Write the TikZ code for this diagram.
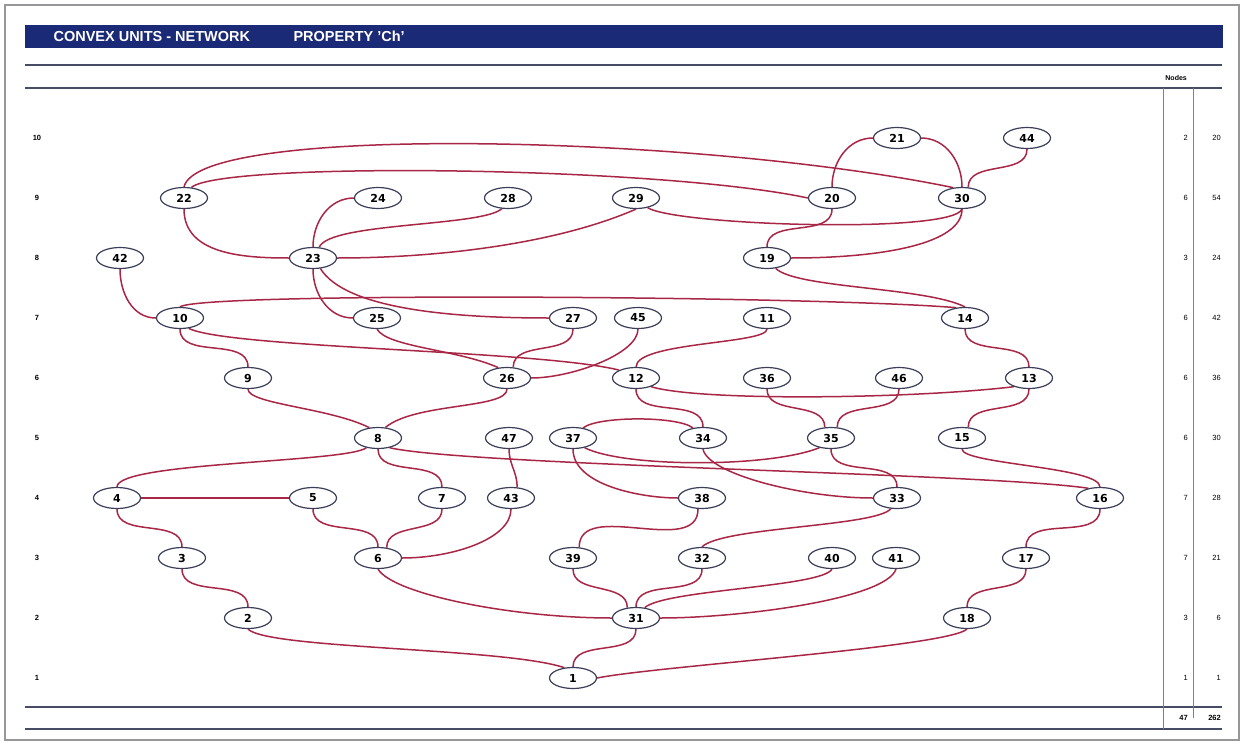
\documentclass[tikz,border=0pt]{standalone}
\usepackage{fontspec}
\setmainfont{Liberation Sans}
\newfontfamily\numfont{DejaVu Sans}
\usetikzlibrary{shapes.geometric,backgrounds}
\definecolor{barblue}{RGB}{26,42,118}
\definecolor{linkred}{RGB}{168,38,70}
\definecolor{unitgray}{RGB}{58,62,88}
\definecolor{rulegray}{RGB}{70,76,100}
\definecolor{framegray}{RGB}{150,150,155}
\begin{document}
\begin{tikzpicture}[x=1pt,y=-1pt,
    unit/.style={ellipse,draw=unitgray,line width=1.2pt,fill=white,minimum width=47pt,minimum height=21pt,inner sep=0pt,font=\numfont\bfseries\fontsize{11}{12}\selectfont},
    link/.style={draw=linkred,line width=1.5pt},
    lvl/.style={font=\bfseries\fontsize{7.5}{8}\selectfont},
    cnt/.style={anchor=east,inner sep=1pt,font=\fontsize{7.5}{8}\selectfont}]
            \useasboundingbox (0,0) rectangle (1245,744);
            \draw[framegray, line width=1.5pt] (5,5) rectangle (1239,740);
            \fill[barblue] (25,25) rectangle (1223,48);
            \node[anchor=west, text=white, font=\bfseries\fontsize{14.5}{15}\selectfont] (title) at (50,36.5) {CONVEX UNITS - NETWORK};
            \node[anchor=west, text=white, font=\bfseries\fontsize{14.5}{15}\selectfont] (prop) at (290,36.5) {PROPERTY 'Ch'};
            \draw[rulegray, line width=1.4pt] (25,65) -- (1222,65);
            \draw[rulegray, line width=1.4pt] (25,88) -- (1222,88);
            \draw[rulegray, line width=1.4pt] (25,707) -- (1222,707);
            \draw[rulegray, line width=1.4pt] (25,729) -- (1222,729);
            \draw[gray, line width=0.6pt] (1163,88) -- (1163,729);
            \draw[gray, line width=0.6pt] (1193,88) -- (1193,718);
            \node[anchor=east, inner sep=1pt, font=\bfseries\fontsize{7}{7}\selectfont] (nodes) at (1188,78) {Nodes};
            \foreach \lv/\nn/\ns in {10/2/20, 9/6/54, 8/3/24, 7/6/42, 6/6/36, 5/6/30, 4/7/28, 3/7/21, 2/3/6, 1/1/1} {
              \node[lvl] (lvl\lv) at (37,{738-60*\lv}) {\lv};
              \node[cnt] (cnta\lv) at (1189,{738-60*\lv}) {\nn};
              \node[cnt] (cntb\lv) at (1222,{738-60*\lv}) {\ns};
            }
            \node[cnt, font=\bfseries\fontsize{7.5}{8}\selectfont] (tota) at (1189,718) {47};
            \node[cnt, font=\bfseries\fontsize{7.5}{8}\selectfont] (totb) at (1222,718) {262};

            \node[unit] (n21) at (897,138) {21};
            \node[unit] (n44) at (1027,138) {44};
            \node[unit] (n22) at (184,198) {22};
            \node[unit] (n24) at (378,198) {24};
            \node[unit] (n28) at (508,198) {28};
            \node[unit] (n29) at (636,198) {29};
            \node[unit] (n20) at (832,198) {20};
            \node[unit] (n30) at (962,198) {30};
            \node[unit] (n42) at (120,258) {42};
            \node[unit] (n23) at (313,258) {23};
            \node[unit] (n19) at (767,258) {19};
            \node[unit] (n10) at (180,318) {10};
            \node[unit] (n25) at (377,318) {25};
            \node[unit] (n27) at (573,318) {27};
            \node[unit] (n45) at (638,318) {45};
            \node[unit] (n11) at (767,318) {11};
            \node[unit] (n14) at (965,318) {14};
            \node[unit] (n9) at (248,378) {9};
            \node[unit] (n26) at (507,378) {26};
            \node[unit] (n12) at (636,378) {12};
            \node[unit] (n36) at (767,378) {36};
            \node[unit] (n46) at (899,378) {46};
            \node[unit] (n13) at (1029,378) {13};
            \node[unit] (n8) at (378,438) {8};
            \node[unit] (n47) at (509,438) {47};
            \node[unit] (n37) at (573,438) {37};
            \node[unit] (n34) at (703,438) {34};
            \node[unit] (n35) at (831,438) {35};
            \node[unit] (n15) at (962,438) {15};
            \node[unit] (n4) at (117,498) {4};
            \node[unit] (n5) at (313,498) {5};
            \node[unit] (n7) at (442,498) {7};
            \node[unit] (n43) at (511,498) {43};
            \node[unit] (n38) at (702,498) {38};
            \node[unit] (n33) at (897,498) {33};
            \node[unit] (n16) at (1100,498) {16};
            \node[unit] (n3) at (182,558) {3};
            \node[unit] (n6) at (378,558) {6};
            \node[unit] (n39) at (573,558) {39};
            \node[unit] (n32) at (702,558) {32};
            \node[unit] (n40) at (832,558) {40};
            \node[unit] (n41) at (896,558) {41};
            \node[unit] (n17) at (1026,558) {17};
            \node[unit] (n2) at (248,618) {2};
            \node[unit] (n31) at (636,618) {31};
            \node[unit] (n18) at (967,618) {18};
            \node[unit] (n1) at (573,678) {1};

            \begin{scope}[on background layer]
              \draw[link] (n21.west) to[out=180,in=90] (n20.north);
              \draw[link] (n21.east) to[out=0,in=90] (n30.north);
              \draw[link] (n44.south) to[out=-90,in=90] (n30.60);
              \draw[link] (n22.north) .. controls +(15,-64) and +(-250,-52) .. (n30.130);
              \draw[link] (n22.55) .. controls +(30,-26) and +(-150,-32) .. (n20.west);
              \draw[link] (n22.south) to[out=-90,in=180] (n23.west);
              \draw[link] (n23.north) to[out=90,in=180] (n24.west);
              \draw[link] (n23.60) .. controls +(10,-25) and +(-20,18) .. (n28.-120);
              \draw[link] (n23.east) .. controls +(100,0) and +(-80,35) .. (n29.south);
              \draw[link] (n23.-55) .. controls +(25,40) and +(-100,0) .. (n27.west);
              \draw[link] (n23.south) to[out=-90,in=180] (n25.west);
              \draw[link] (n29.-40) .. controls +(30,18) and +(-10,25) .. (n30.south);
              \draw[link] (n19.north) to[out=90,in=-90] (n20.south);
              \draw[link] (n30.south) .. controls +(0,35) and +(90,0) .. (n19.east);
              \draw[link] (n19.-50) .. controls +(20,20) and +(-40,-20) .. (n14.north);
              \draw[link] (n10.north) .. controls +(20,-15) and +(-150,-12) .. (n14.130);
              \draw[link] (n42.south) to[out=-90,in=180] (n10.west);
              \draw[link] (n10.south) to[out=-90,in=90] (n9.north);
              \draw[link] (n10.-50) .. controls +(40,20) and +(-80,-20) .. (n12.155);
              \draw[link] (n25.south) .. controls +(10,18) and +(-40,-18) .. (n26.130);
              \draw[link] (n27.south) to[out=-90,in=90] (n26.60);
              \draw[link] (n45.south) .. controls +(0,25) and +(40,0) .. (n26.east);
              \draw[link] (n11.south) .. controls +(0,15) and +(0,-25) .. (n12.north);
              \draw[link] (n14.south) to[out=-90,in=90] (n13.north);
              \draw[link] (n12.-30) .. controls +(50,15) and +(-100,12) .. (n13.-150);
              \draw[link] (n9.south) .. controls +(0,15) and +(-40,-20) .. (n8.130);
              \draw[link] (n26.south) .. controls +(0,20) and +(30,-25) .. (n8.55);
              \draw[link] (n12.south) to[out=-90,in=90] (n34.north);
              \draw[link] (n36.south) to[out=-90,in=90] (n35.120);
              \draw[link] (n46.south) to[out=-90,in=90] (n35.60);
              \draw[link] (n13.south) to[out=-90,in=90] (n15.60);
              \draw[link] (n37.45) .. controls +(15,-12) and +(-15,-12) .. (n34.135);
              \draw[link] (n37.-40) .. controls +(40,20) and +(-50,20) .. (n35.-140);
              \draw[link] (n8.-40) .. controls +(80,18) and +(-100,-15) .. (n16.140);
              \draw[link] (n34.south) .. controls +(5,25) and +(-70,0) .. (n33.west);
              \draw[link] (n35.south) to[out=-90,in=90] (n33.north);
              \draw[link] (n15.south) .. controls +(0,15) and +(0,-20) .. (n16.north);
              \draw[link] (n8.-140) .. controls +(-20,15) and +(0,-25) .. (n4.north);
              \draw[link] (n8.south) to[out=-90,in=90] (n7.north);
              \draw[link] (n47.south) to[out=-90,in=90] (n43.60);
              \draw[link] (n37.south) to[out=-90,in=180,looseness=0.8] (n38.west);
              \draw[link, line width=2pt] (n4.east) -- (n5.west);
              \draw[link] (n4.south) to[out=-90,in=90] (n3.north);
              \draw[link] (n5.south) to[out=-90,in=90] (n6.north);
              \draw[link] (n7.south) to[out=-90,in=90] (n6.50);
              \draw[link] (n43.south) .. controls +(0,30) and +(50,0) .. (n6.east);
              \draw[link] (n38.-110) to[out=-90,in=90] (n39.60);
              \draw[link] (n33.-120) .. controls +(-15,18) and +(20,-20) .. (n32.north);
              \draw[link] (n16.south) to[out=-90,in=90] (n17.north);
              \draw[link] (n3.south) to[out=-90,in=90] (n2.north);
              \draw[link] (n6.south) .. controls +(15,25) and +(-100,0) .. (n31.west);
              \draw[link] (n39.south) to[out=-90,in=90] (n31.130);
              \draw[link] (n32.south) to[out=-90,in=90] (n31.north);
              \draw[link] (n40.south) .. controls +(-10,18) and +(20,-18) .. (n31.50);
              \draw[link] (n41.south) .. controls +(-10,30) and +(80,0) .. (n31.east);
              \draw[link] (n17.south) to[out=-90,in=90] (n18.north);
              \draw[link] (n2.south) .. controls +(20,20) and +(-60,-20) .. (n1.130);
              \draw[link] (n31.south) to[out=-90,in=90] (n1.north);
              \draw[link] (n18.south) .. controls +(-20,18) and +(60,-12) .. (n1.east);
            \end{scope}
\end{tikzpicture}
\end{document}
